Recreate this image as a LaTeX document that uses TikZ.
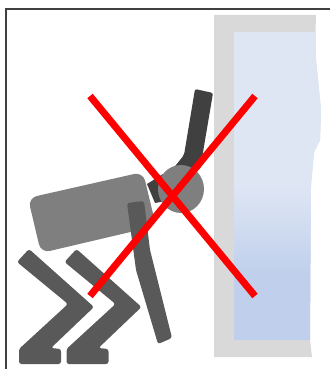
\documentclass[tikz,border=0pt]{standalone}
\usepackage{tikz}

\definecolor{framegray}{HTML}{404040}
\definecolor{wallgray}{HTML}{D9D9D9}
\definecolor{bodygray}{HTML}{7F7F7F}
\definecolor{leggray}{HTML}{595959}
\definecolor{glasstop}{HTML}{DEE6F4}
\definecolor{glasslow}{HTML}{C0D0EC}
\pgfdeclareverticalshading{glassfade}{100bp}{color(0bp)=(glasslow); color(36bp)=(glasslow); color(50bp)=(glasstop); color(100bp)=(glasstop)}

\tikzset{
    leg/.style={fill=leggray, rounded corners=2.5pt},
    cross/.style={draw=red, line width=7pt}
}

\begin{document}
\begin{tikzpicture}[x=1pt, y=-1pt]
    \useasboundingbox (0,0) rectangle (330,369);
    \draw[framegray, line width=2pt] (6,369) -- (6,9) -- (330,9);
    % wall
    \fill[wallgray] (214,15) -- (316,15) -- (315.5,32) -- (316,60) -- (321,110) -- (320,140) -- (314,152) -- (311,185) -- (310,340) -- (312,357) -- (214,357) -- cycle;
    \shade[shading=glassfade] (234,32) -- (315,32) -- (316,60) -- (321,110) -- (320,140) -- (314,152) -- (311,185) -- (310,340) -- (234,340) -- cycle;
    % robot
    \fill[framegray] (147,184) -- (163,174) -- (172,200) -- (155,203) -- cycle;
    \fill[framegray, rounded corners=2pt] (195,89) -- (213,93) -- (200,170) -- (172,170) -- (184,155) -- cycle;
    \fill[bodygray, rounded corners=9pt] (28,198) -- (143,172) -- (156,226) -- (41,253) -- cycle;
    \fill[bodygray] (181,189) ellipse (23 and 24);
    \fill[leg] (127,203) -- (144,201) -- (150,250) -- (172,338) -- (158,344) -- (136,270) -- cycle;
    \foreach \shift in {0,47.5} {
        \fill[leg, xshift=\shift pt] (17,262) -- (29,249) -- (94,307) -- (51,348) -- (61,349) -- (61,364) -- (19,364) -- (19,349) -- (68,304) -- cycle;
    }
    % red cross
    \draw[cross] (90,96) -- (255,296);
    \draw[cross] (255,96) -- (90,296);
\end{tikzpicture}
\end{document}
